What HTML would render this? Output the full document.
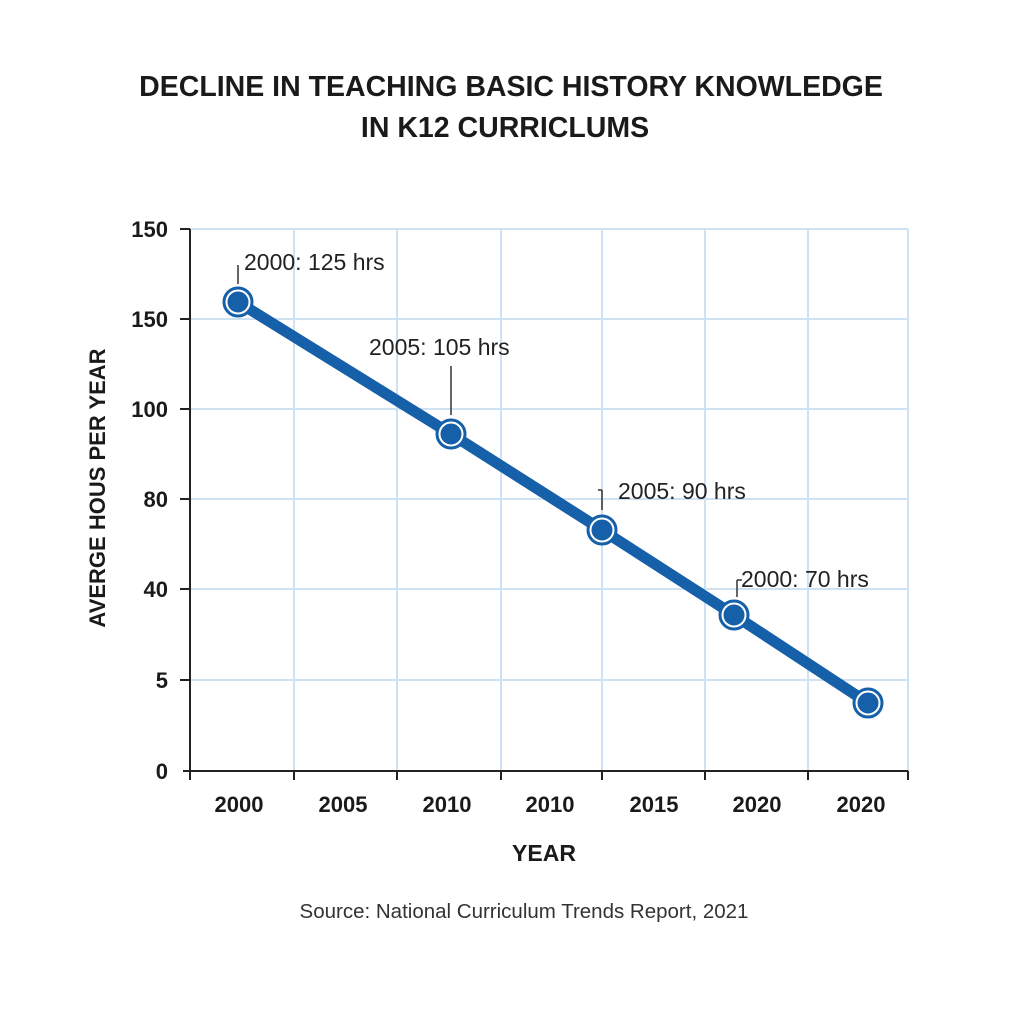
<!DOCTYPE html>
<html><head><style>body{margin:0;background:#fff}svg{display:block}</style></head><body>
<svg width="1024" height="1024" viewBox="0 0 1024 1024" xmlns="http://www.w3.org/2000/svg" font-family="Liberation Sans, sans-serif">
<rect width="1024" height="1024" fill="#fff"/>
<text x="511" y="96" text-anchor="middle" font-size="28.5" font-weight="bold" fill="#1a1a1a">DECLINE IN TEACHING BASIC HISTORY KNOWLEDGE</text>
<text x="505" y="137" text-anchor="middle" font-size="28.5" font-weight="bold" fill="#1a1a1a">IN K12 CURRICLUMS</text>
<g stroke="#cfe2f3" stroke-width="2">
<line x1="190" y1="229" x2="908" y2="229"/><line x1="190" y1="319" x2="908" y2="319"/>
<line x1="190" y1="409" x2="908" y2="409"/><line x1="190" y1="499" x2="908" y2="499"/>
<line x1="190" y1="589" x2="908" y2="589"/><line x1="190" y1="680" x2="908" y2="680"/>
<line x1="294" y1="229" x2="294" y2="771"/><line x1="397" y1="229" x2="397" y2="771"/>
<line x1="501" y1="229" x2="501" y2="771"/><line x1="602" y1="229" x2="602" y2="771"/>
<line x1="705" y1="229" x2="705" y2="771"/><line x1="808" y1="229" x2="808" y2="771"/>
<line x1="908" y1="229" x2="908" y2="771"/>
</g>
<g stroke="#222" stroke-width="2">
<line x1="190" y1="229" x2="190" y2="771"/><line x1="183" y1="771" x2="908" y2="771"/>
<line x1="180" y1="229" x2="190" y2="229"/><line x1="180" y1="319" x2="190" y2="319"/>
<line x1="180" y1="409" x2="190" y2="409"/><line x1="180" y1="499" x2="190" y2="499"/>
<line x1="180" y1="589" x2="190" y2="589"/><line x1="180" y1="680" x2="190" y2="680"/>
<line x1="190" y1="771" x2="190" y2="780"/><line x1="294" y1="771" x2="294" y2="780"/>
<line x1="397" y1="771" x2="397" y2="780"/><line x1="501" y1="771" x2="501" y2="780"/>
<line x1="602" y1="771" x2="602" y2="780"/><line x1="705" y1="771" x2="705" y2="780"/>
<line x1="808" y1="771" x2="808" y2="780"/><line x1="908" y1="771" x2="908" y2="780"/>
</g>
<g font-size="22" font-weight="bold" fill="#1a1a1a" text-anchor="end">
<text x="168" y="237">150</text><text x="168" y="327">150</text><text x="168" y="417">100</text>
<text x="168" y="507">80</text><text x="168" y="597">40</text><text x="168" y="688">5</text><text x="168" y="779">0</text>
</g>
<g font-size="22" font-weight="bold" fill="#1a1a1a" text-anchor="middle">
<text x="239" y="812">2000</text><text x="343" y="812">2005</text><text x="447" y="812">2010</text>
<text x="550" y="812">2010</text><text x="654" y="812">2015</text><text x="757" y="812">2020</text><text x="861" y="812">2020</text>
</g>
<text x="544" y="861" text-anchor="middle" font-size="23" font-weight="bold" fill="#1a1a1a">YEAR</text>
<text transform="translate(105,488) rotate(-90)" text-anchor="middle" font-size="22" font-weight="bold" fill="#1a1a1a">AVERGE HOUS PER YEAR</text>
<text x="524" y="918" text-anchor="middle" font-size="20.5" fill="#333">Source: National Curriculum Trends Report, 2021</text>
<g stroke="#333" stroke-width="1.5">
<line x1="238" y1="265" x2="238" y2="284"/><line x1="451" y1="366" x2="451" y2="415"/>
<line x1="602" y1="490" x2="602" y2="510"/><line x1="598" y1="490" x2="602" y2="490"/>
<line x1="737" y1="580" x2="737" y2="597"/><line x1="737" y1="580" x2="742" y2="580"/>
</g>
<g font-size="23" fill="#222">
<text x="244" y="270">2000: 125 hrs</text><text x="369" y="355">2005: 105 hrs</text>
<text x="618" y="499">2005: 90 hrs</text><text x="741" y="587">2000: 70 hrs</text>
</g>
<polyline points="238,302 451,434 602,530 734,615 868,703" fill="none" stroke="#1560a8" stroke-width="11" stroke-linejoin="round"/>
<g fill="#1560a8" stroke="#fff" stroke-width="3">
<circle cx="238" cy="302" r="12"/><circle cx="451" cy="434" r="12"/><circle cx="602" cy="530" r="12"/>
<circle cx="734" cy="615" r="12"/><circle cx="868" cy="703" r="12"/>
</g>
<g fill="none" stroke="#1560a8" stroke-width="3">
<circle cx="238" cy="302" r="14"/><circle cx="451" cy="434" r="14"/><circle cx="602" cy="530" r="14"/>
<circle cx="734" cy="615" r="14"/><circle cx="868" cy="703" r="14"/>
</g>
</svg>
</body></html>
